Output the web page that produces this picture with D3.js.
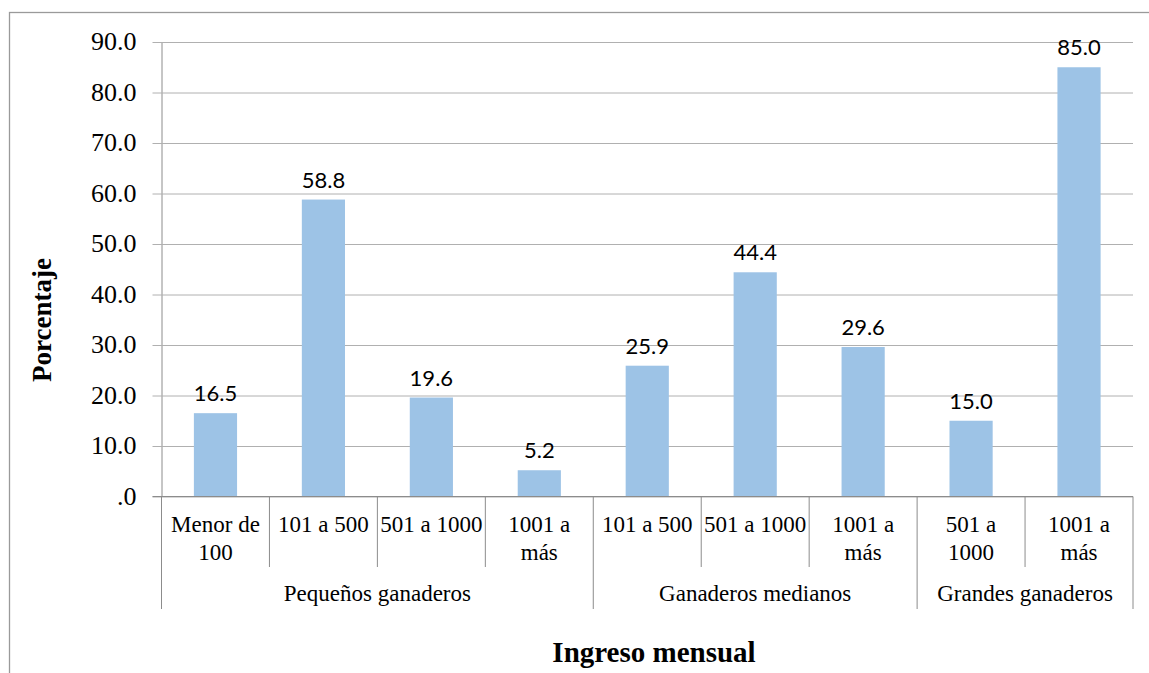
<!DOCTYPE html>
<html>
<head>
<meta charset="utf-8">
<script src="https://cdn.jsdelivr.net/npm/d3@7"></script>
<style>
  html, body { margin: 0; padding: 0; background: #fff; }
  svg { display: block; }
</style>
</head>
<body>
<svg id="chart" width="1149" height="673"></svg>
<script>
// Income brackets per producer size, percentage of producers
const groups = ["Pequeños ganaderos", "Ganaderos medianos", "Grandes ganaderos"];
const categoryLines = [
  ["Menor de", "100"],
  ["101 a 500"],
  ["501 a 1000"],
  ["1001 a", "más"],
  ["101 a 500"],
  ["501 a 1000"],
  ["1001 a", "más"],
  ["501 a", "1000"],
  ["1001 a", "más"]
];
const categoryGroup = [0, 0, 0, 0, 1, 1, 1, 2, 2];
const values = [16.5, 58.8, 19.6, 5.2, 25.9, 44.4, 29.6, 15.0, 85.0];
const yTicks = [0, 10, 20, 30, 40, 50, 60, 70, 80, 90];
const yTitle = "Porcentaje";
const xTitle = "Ingreso mensual";

const svg = d3.select("#chart");
const plotLeft = 161.5, plotRight = 1133, plotTop = 42, plotBottom = 496.5;
const serif = "Liberation Serif";
const sans = "Lato";
const axisGray = "#8c8c8c";
const BASE = 30; // serif text is set at this size and scaled to its final size

// serif text placed at (x, y) with an effective size of `size`
function serifText(parent, px, py, size, lines, anchor, weight) {
  const s = size / BASE;
  const t = parent.append("text")
    .attr("transform", `translate(${px},${py}) scale(${s})`)
    .attr("font-family", serif).attr("font-size", BASE)
    .attr("font-weight", weight || "normal")
    .attr("text-anchor", anchor || "middle").attr("fill", "#000");
  lines.forEach((ln, k) => {
    t.append("tspan").attr("x", 0).attr("dy", k === 0 ? 0 : 28 / s).text(ln);
  });
  return t;
}

// chart frame
svg.append("rect")
  .attr("x", 9.5).attr("y", 12.5)
  .attr("width", 1200).attr("height", 700)
  .attr("fill", "none").attr("stroke", "#9a9a9a").attr("stroke-width", 1.3);

const idx = values.map((d, i) => i);
const x = d3.scaleBand().domain(idx).range([plotLeft, plotRight])
  .paddingInner(0.6).paddingOuter(0.3);
const y = d3.scaleLinear().domain([0, 90]).range([plotBottom, plotTop]);

const fmt = v => v === 0 ? ".0" : d3.format(".1f")(v);

// horizontal gridlines and tick marks
const yAxis = d3.axisLeft(y).tickValues(yTicks).tickFormat("")
  .tickSize(-(plotRight - plotLeft)).tickSizeOuter(0);
const gy = svg.append("g").attr("transform", `translate(${plotLeft},0)`).call(yAxis);
gy.select(".domain").attr("stroke", axisGray);
gy.selectAll(".tick line").attr("stroke", "#b0b0b0").attr("x1", -9);
gy.selectAll(".tick text").remove();

// y tick labels
const yLab = svg.append("g");
yTicks.forEach(t => serifText(yLab, plotLeft - 25, y(t) + 8, 26, [fmt(t)], "end"));

// bars
svg.append("g").selectAll("rect").data(values).join("rect")
  .attr("x", (d, i) => x(i))
  .attr("y", d => y(d))
  .attr("width", x.bandwidth())
  .attr("height", d => y(0) - y(d))
  .attr("fill", "#9dc3e6");

// value labels
svg.append("g").selectAll("text").data(values).join("text")
  .attr("font-family", sans)
  .attr("x", (d, i) => x(i) + x.bandwidth() / 2)
  .attr("y", d => y(d) - 12)
  .attr("text-anchor", "middle")
  .attr("font-size", 22).attr("fill", "#000")
  .text(d => fmt(d));

// x axis baseline
svg.append("line")
  .attr("x1", plotLeft - 9).attr("x2", plotRight).attr("y1", plotBottom).attr("y2", plotBottom)
  .attr("stroke", axisGray);

// category separators: short between brackets, long between groups
const step = x.step();
const boundaries = d3.range(values.length + 1).map(i => plotLeft + i * step);
svg.append("g").selectAll("line").data(boundaries).join("line")
  .attr("x1", d => d).attr("x2", d => d)
  .attr("y1", plotBottom)
  .attr("y2", (d, i) => (i === 0 || i === values.length || categoryGroup[i] !== categoryGroup[i - 1]) ? 609 : 567)
  .attr("stroke", axisGray);

// category labels
const catG = svg.append("g");
categoryLines.forEach((lines, i) => {
  serifText(catG, x(i) + x.bandwidth() / 2, 532, 23, lines, "middle");
});

// group labels
const grpG = svg.append("g");
groups.forEach((g, gi) => {
  const members = idx.filter(i => categoryGroup[i] === gi);
  const cx = (boundaries[members[0]] + boundaries[members[members.length - 1] + 1]) / 2;
  serifText(grpG, cx, 601, 23, [g], "middle");
});

// axis titles
svg.append("text")
  .attr("font-family", serif)
  .attr("transform", "translate(51,320) rotate(-90)")
  .attr("text-anchor", "middle")
  .attr("font-size", 27).attr("font-weight", "bold")
  .text(yTitle);

svg.append("text")
  .attr("font-family", serif)
  .attr("x", 654).attr("y", 662)
  .attr("text-anchor", "middle")
  .attr("font-size", 29).attr("font-weight", "bold")
  .text(xTitle);
</script>
</body>
</html>
